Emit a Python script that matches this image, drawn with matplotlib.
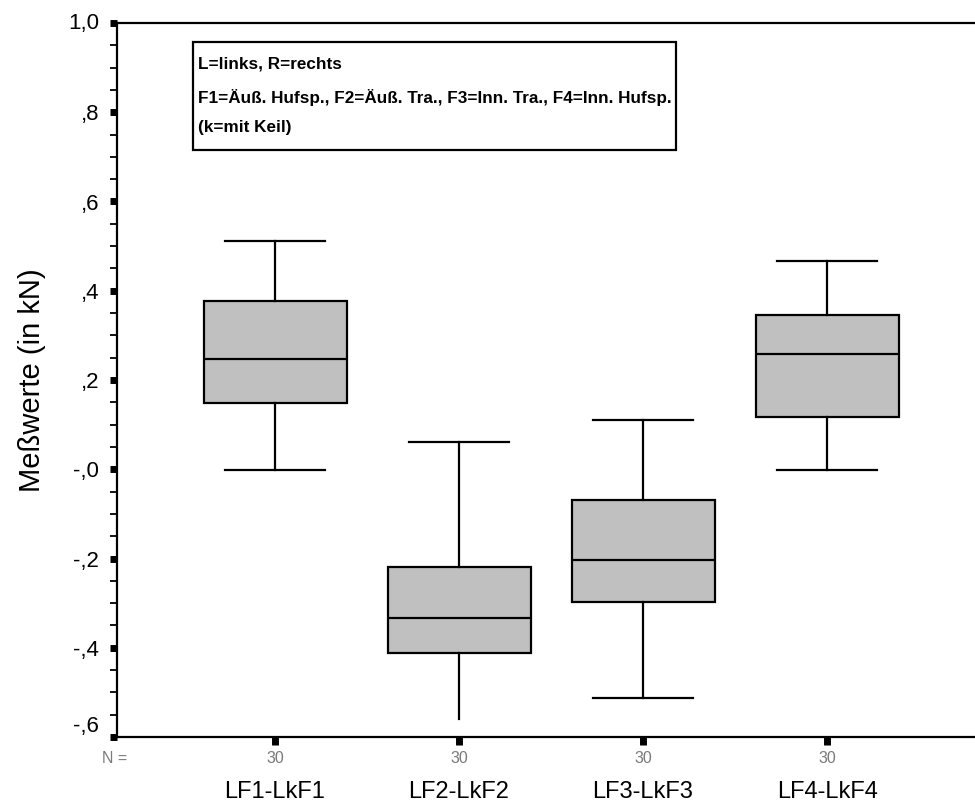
import matplotlib
matplotlib.use("Agg")
import matplotlib.pyplot as plt
from matplotlib.patches import Rectangle
from matplotlib.ticker import MultipleLocator, FixedLocator
import matplotlib.transforms as mtransforms

# data (in kN)
categories = ["LF1-LkF1", "LF2-LkF2", "LF3-LkF3", "LF4-LkF4"]
n_values = [30, 30, 30, 30]
whis_hi = [0.511, 0.061, 0.110, 0.466]
q3 = [0.377, -0.219, -0.069, 0.345]
median = [0.247, -0.333, -0.203, 0.258]
q1 = [0.148, -0.411, -0.297, 0.117]
whis_lo = [-0.002, -0.559, -0.512, -0.002]

yticks = [-0.6, -0.4, -0.2, 0.0, 0.2, 0.4, 0.6, 0.8, 1.0]
ytick_labels = ["-,6", "-,4", "-,2", "-,0", ",2", ",4", ",6", ",8", "1,0"]

legend_lines = ["L=links, R=rechts",
                "F1=Äuß. Hufsp., F2=Äuß. Tra., F3=Inn. Tra., F4=Inn. Hufsp.",
                "(k=mit Keil)"]

plt.rcParams['font.family'] = ['Liberation Sans', 'DejaVu Sans']

fig = plt.figure(figsize=(9.75, 8.05), dpi=100)
ax = fig.add_axes([117/975, 1-737/805, 1-117/975, 714/805])

stats = []
for i in range(len(categories)):
    stats.append({"med": median[i], "q1": q1[i], "q3": q3[i],
                  "whislo": whis_lo[i], "whishi": whis_hi[i],
                  "fliers": [], "label": categories[i]})

pos = list(range(1, len(categories)+1))
bp = ax.bxp(stats, positions=pos, widths=0.777, capwidths=0.543,
            patch_artist=True, showfliers=False,
            boxprops=dict(facecolor="#c0c0c0", edgecolor="black", linewidth=1.6),
            medianprops=dict(color="black", linewidth=1.6),
            whiskerprops=dict(color="black", linewidth=1.6),
            capprops=dict(color="black", linewidth=1.6))
# lower cap of the second box is not drawn in the original
bp["caps"][2].set_visible(False)

ax.set_xlim(0.141, 4.804)
ax.set_ylim(-0.6, 1.0)

ax.spines["right"].set_visible(False)
for s in ["left", "top", "bottom"]:
    ax.spines[s].set_linewidth(1.6)

ax.yaxis.set_major_locator(FixedLocator(yticks))
ax.set_yticklabels(ytick_labels, fontsize=16)
ax.yaxis.set_minor_locator(MultipleLocator(0.05))
ax.tick_params(axis="y", which="major", length=5, width=5, pad=8)
ax.tick_params(axis="y", which="minor", length=5, width=1.3)
ax.tick_params(axis="x", which="major", length=6, width=5)
ax.set_xticks(pos)
ax.set_xticklabels([""]*len(pos))

# shift outer labels inward like the original
tl = ax.get_yticklabels()
tl[0].set_verticalalignment("bottom")
tl[-1].set_verticalalignment("center")

ax.set_ylabel("Meßwerte (in kN)", fontsize=21, labelpad=16)

trans = mtransforms.blended_transform_factory(ax.transData, ax.transAxes)
for p, n, c in zip(pos, n_values, categories):
    ax.text(p, -21/714, str(n), transform=trans, ha="center", va="center",
            fontsize=11.5, color="#7a7a7a")
    ax.text(p, -61/714, c, transform=trans, ha="center", va="baseline",
            fontsize=17)
ax.text(-2/858, -21/714, "N =", transform=ax.transAxes, ha="center",
        va="center", fontsize=11.5, color="#7a7a7a")

# legend box with text
ax.add_patch(Rectangle((0.0886, 0.8221), 0.5629, 0.1513, transform=ax.transAxes,
                       facecolor="white", edgecolor="black", linewidth=1.6,
                       zorder=3))
ys = [0.943, 0.896, 0.853]
for line, y in zip(legend_lines, ys):
    ax.text(0.0944, y, line, transform=ax.transAxes, ha="left", va="center",
            fontsize=12.3, fontweight="bold", zorder=4)

fig.savefig("out.png", dpi=100)
